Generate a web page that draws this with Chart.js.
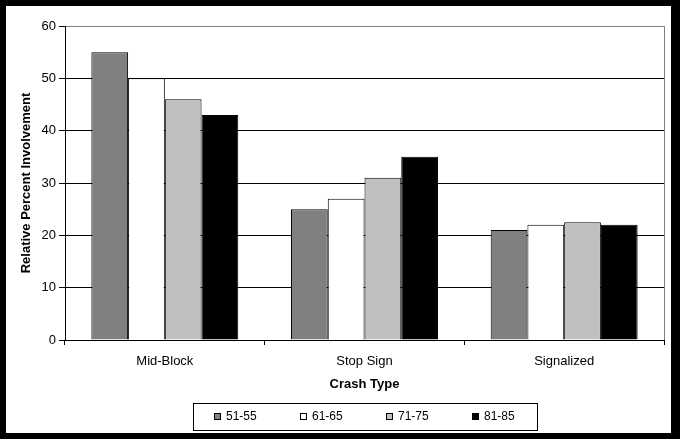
<!DOCTYPE html>
<html>
<head>
<meta charset="utf-8">
<script src="https://cdn.jsdelivr.net/npm/chart.js@4/dist/chart.umd.min.js"></script>
<style>
  html, body { margin: 0; padding: 0; background: #000; }
  #wrap { width: 680px; height: 439px; }
</style>
</head>
<body>
<div id="wrap"><canvas id="c" width="680" height="439"></canvas></div>
<script>
const categories = ["Mid-Block", "Stop Sign", "Signalized"];
const seriesNames = ["51-55", "61-65", "71-75", "81-85"];
const series5155 = [55, 25, 21];
const series6165 = [50, 27, 22];
const series7175 = [46, 31, 22.5];
const series8185 = [43, 35, 22];
const seriesColors = ["#808080", "#FFFFFF", "#C0C0C0", "#000000"];
const yTicks = [0, 10, 20, 30, 40, 50, 60];
const yAxisTitle = "Relative Percent Involvement";
const xAxisTitle = "Crash Type";

const FONT = "'Liberation Sans', Arial, Helvetica, sans-serif";
Chart.defaults.font.family = FONT;
Chart.defaults.font.size = 13;
Chart.defaults.color = "#000";

const allSeries = [series5155, series6165, series7175, series8185];

const framePlugin = {
  id: "frame",
  beforeDraw(chart) {
    const ctx = chart.ctx;
    ctx.save();
    ctx.fillStyle = "#000";
    ctx.fillRect(0, 0, chart.width, chart.height);
    ctx.fillStyle = "#fff";
    ctx.fillRect(6, 6, chart.width - 15, chart.height - 12);
    ctx.restore();
  },
  afterDatasetsDraw(chart) {
    const ctx = chart.ctx;
    const a = chart.chartArea;
    ctx.save();
    ctx.strokeStyle = "#808080";
    ctx.lineWidth = 1;
    ctx.beginPath();
    ctx.moveTo(Math.round(a.right) + 0.5, a.top);
    ctx.lineTo(Math.round(a.right) + 0.5, a.bottom);
    ctx.stroke();
    ctx.restore();
  }
};

const boxLegendPlugin = {
  id: "boxLegend",
  afterDraw(chart) {
    const ctx = chart.ctx;
    const a = chart.chartArea;
    const cx = (a.left + a.right) / 2;
    const boxW = 344, boxH = 27, boxTop = 403;
    const left = Math.round(cx - boxW / 2);
    ctx.save();
    ctx.strokeStyle = "#000";
    ctx.lineWidth = 1;
    ctx.strokeRect(left + 0.5, boxTop + 0.5, boxW, boxH);
    ctx.font = "12px " + FONT;
    ctx.textBaseline = "middle";
    ctx.textAlign = "left";
    const sq = 7, gapTxt = 5, step = 86;
    const ds = chart.data.datasets;
    const lastW = sq + gapTxt + ctx.measureText(ds[ds.length - 1].label).width;
    const total = step * (ds.length - 1) + lastW;
    let x = Math.round(cx - total / 2);
    const yMid = boxTop + 13.5;
    ds.forEach((d) => {
      ctx.fillStyle = d.backgroundColor;
      ctx.fillRect(x, yMid - 3.5, sq, sq);
      ctx.strokeStyle = "#000";
      ctx.strokeRect(x + 0.5, yMid - 3.5 + 0.5, sq - 1, sq - 1);
      ctx.fillStyle = "#000";
      ctx.fillText(d.label, x + sq + gapTxt, yMid);
      x += step;
    });
    ctx.restore();
  }
};

new Chart(document.getElementById("c"), {
  type: "bar",
  data: {
    labels: categories,
    datasets: seriesNames.map((name, i) => ({
      label: name,
      data: allSeries[i],
      backgroundColor: seriesColors[i],
      borderColor: "#000",
      borderWidth: 1,
      categoryPercentage: 0.736,
      barPercentage: 1.0
    }))
  },
  options: {
    responsive: false,
    devicePixelRatio: 1,
    animation: false,
    layout: { padding: { left: 6, top: 26, right: 16, bottom: 47 } },
    plugins: {
      legend: { display: false },
      tooltip: { enabled: false }
    },
    scales: {
      x: {
        offset: true,
        grid: { display: true, drawOnChartArea: false, drawTicks: true, tickLength: 5, offset: true, color: "#000" },
        border: { display: true, color: "#000" },
        ticks: { padding: 9, color: "#000", font: { size: 13 } },
        title: { display: true, text: xAxisTitle, font: { size: 13, weight: "bold" }, padding: { top: 0, bottom: 0 }, color: "#000" },
        afterFit(s) { s.height = 52; s.paddingLeft = 0; s.paddingRight = 0; }
      },
      y: {
        min: 0,
        max: 60,
        afterBuildTicks(s) { s.ticks = yTicks.map(v => ({ value: v })); },
        grid: {
          color: (c) => (c.tick && c.tick.value === 60 ? "#808080" : "#000"),
          tickColor: "#000",
          tickLength: 6,
          lineWidth: 1
        },
        border: { display: true, color: "#000" },
        ticks: { padding: 3, color: "#000", font: { size: 13 } },
        title: { display: true, text: yAxisTitle, font: { size: 13, weight: "bold" }, padding: { top: 13, bottom: 0 }, color: "#000" },
        afterFit(s) { s.width = 59; s.paddingTop = 0; s.paddingBottom = 0; }
      }
    }
  },
  plugins: [framePlugin, boxLegendPlugin]
});
</script>
</body>
</html>
